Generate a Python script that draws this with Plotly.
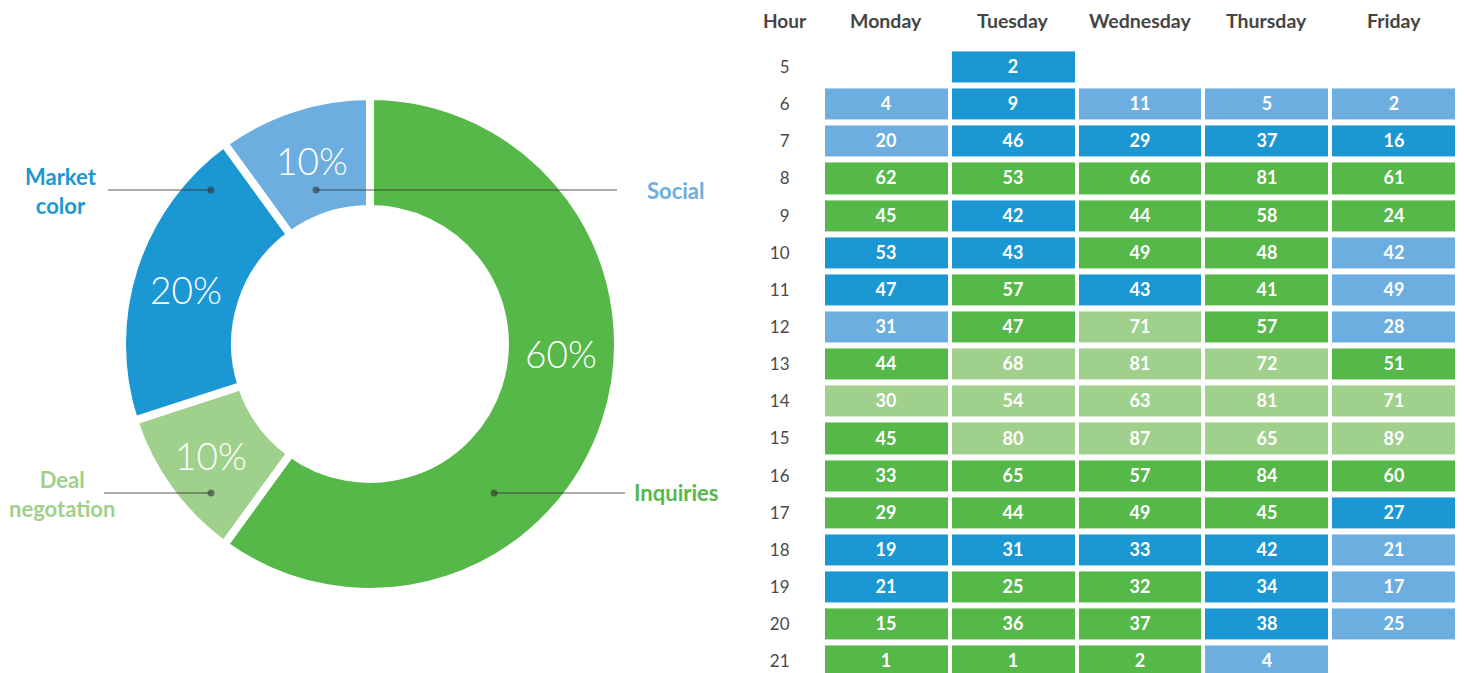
import plotly.graph_objects as go

W, H = 1464, 673

# ---------------- data ----------------
channels = ["Inquiries", "Deal negotation", "Market color", "Social"]
channel_share = [60, 10, 20, 10]
channel_colors = ["#57b84a", "#9fd08c", "#1b97d4", "#6caee0"]

days = ["Monday", "Tuesday", "Wednesday", "Thursday", "Friday"]
hours = list(range(5, 22))
values = [
    [None, 2, None, None, None],
    [4, 9, 11, 5, 2],
    [20, 46, 29, 37, 16],
    [62, 53, 66, 81, 61],
    [45, 42, 44, 58, 24],
    [53, 43, 49, 48, 42],
    [47, 57, 43, 41, 49],
    [31, 47, 71, 57, 28],
    [44, 68, 81, 72, 51],
    [30, 54, 63, 81, 71],
    [45, 80, 87, 65, 89],
    [33, 65, 57, 84, 60],
    [29, 44, 49, 45, 27],
    [19, 31, 33, 42, 21],
    [21, 25, 32, 34, 17],
    [15, 36, 37, 38, 25],
    [1, 1, 2, 4, None],
]
# dominant channel per cell: I=Inquiries, D=Deal negotation, M=Market color, S=Social
cell_channel = [
    "-M---",
    "SMSSS",
    "SMMMM",
    "IIIII",
    "IMIII",
    "MMIIS",
    "MIMIS",
    "SIDIS",
    "IDDDI",
    "DDDDD",
    "IDDDD",
    "IIIII",
    "IIIIM",
    "MMMMS",
    "MIIMS",
    "IIIMS",
    "IIIS-",
]
code_of = {"I": 0, "D": 1, "M": 2, "S": 3}

FONT = "Lato"

# ---------------- figure ----------------
fig = go.Figure()

# donut
cx, cy, R = 370, 344, 248
fig.add_trace(go.Pie(
    labels=channels,
    values=channel_share,
    sort=False,
    direction="clockwise",
    rotation=0,
    hole=0.544,
    marker=dict(colors=channel_colors, line=dict(color="white", width=8)),
    textinfo="none",
    showlegend=False,
    hoverinfo="label+percent",
    domain=dict(x=[(cx - R) / W, (cx + R) / W],
                y=[1 - (cy + R) / H, 1 - (cy - R) / H]),
))

# heatmap table
z = [[(code_of[c] if c in code_of else None) for c in row] for row in cell_channel]
txt = [["" if v is None else f"<b>{v}</b>" for v in row] for row in values]
cs = []
n = len(channel_colors)
for i, col in enumerate(channel_colors):
    cs.append([i / n, col])
    cs.append([(i + 1) / n, col])
fig.add_trace(go.Heatmap(
    x=days, y=hours, z=z, text=txt, texttemplate="%{text}",
    textfont=dict(family=FONT, size=18, color="white"),
    colorscale=cs, zmin=-0.5, zmax=n - 0.5, showscale=False,
    xgap=4, ygap=6, hoverongaps=False,
    xaxis="x", yaxis="y",
))

pitch = 37.15
top_px, bot_px = 40, H
row5_px = 67
y_top = 5 - (row5_px - top_px) / pitch
y_bot = 5 + (bot_px - row5_px) / pitch

fig.update_layout(
    width=W, height=H,
    margin=dict(l=0, r=0, t=0, b=0),
    paper_bgcolor="white", plot_bgcolor="white",
    font=dict(family=FONT, color="#444444"),
    xaxis=dict(domain=[823 / W, 1457 / W], showgrid=False, zeroline=False,
               showline=False, showticklabels=False, fixedrange=True),
    yaxis=dict(domain=[0, 1 - top_px / H], range=[y_bot, y_top],
               showgrid=False, zeroline=False, showline=False, fixedrange=True,
               tickmode="array", tickvals=hours, ticktext=[str(h) for h in hours],
               ticks="outside", ticklen=29, tickcolor="rgba(0,0,0,0)",
               tickfont=dict(family=FONT, size=17, color="#4a4a4a")),
)

def px(x): return x / W
def py(y): return 1 - y / H

# column headers
for d in days:
    fig.add_annotation(x=d, y=py(20), xref="x", yref="paper",
                       xanchor="center", yanchor="middle",
                       text=f"<b>{d}</b>", showarrow=False,
                       font=dict(family=FONT, size=19.5, color="#454545"))
fig.add_annotation(x=px(785), y=py(20), xref="paper", yref="paper",
                   xanchor="center", yanchor="middle",
                   text="<b>Hour</b>", showarrow=False,
                   font=dict(family=FONT, size=19, color="#454545"))

# percentage labels inside donut slices
total = sum(channel_share)
pct_pos = [(561, 353), (211, 455), (186, 289), (312, 160)]
for share, (x, y) in zip(channel_share, pct_pos):
    fig.add_annotation(x=px(x), y=py(y), xref="paper", yref="paper",
                       xanchor="center", yanchor="middle",
                       text=f"{share / total * 100:.0f}%", showarrow=False,
                       font=dict(family=FONT, size=37, color="white", weight=300))

# leader lines + labels for donut
leaders = [
    # (label, color, dot_x, dot_y, line_end_x, label_x, label_y)
    ("Social", channel_colors[3], 316, 190, 617, 676, 190),
    ("Market<br>color", channel_colors[2], 211, 190, 108, 61, 191),
    ("Deal<br>negotation", channel_colors[1], 211, 493, 104, 62, 494),
    ("Inquiries", channel_colors[0], 494, 493, 625, 676, 493),
]
for lab, col, dx, dy, ex, lx, ly in leaders:
    fig.add_shape(type="line", xref="paper", yref="paper",
                  x0=px(dx), y0=py(dy), x1=px(ex), y1=py(dy),
                  line=dict(color="rgba(50,50,50,0.55)", width=1.5), layer="above")
    fig.add_shape(type="circle", xref="paper", yref="paper",
                  x0=px(dx - 3.5), y0=py(dy - 3.5), x1=px(dx + 3.5), y1=py(dy + 3.5),
                  fillcolor="rgba(50,50,50,0.6)", line=dict(width=0), layer="above")
    fig.add_annotation(x=px(lx), y=py(ly), xref="paper", yref="paper",
                       xanchor="center", yanchor="middle",
                       text=f"<b>{lab}</b>", showarrow=False, align="center",
                       font=dict(family=FONT, size=22, color=col))

fig.write_html("out.html", config={"displayModeBar": False},
               post_script="document.body.style.margin='0';document.body.style.overflow='hidden';")
